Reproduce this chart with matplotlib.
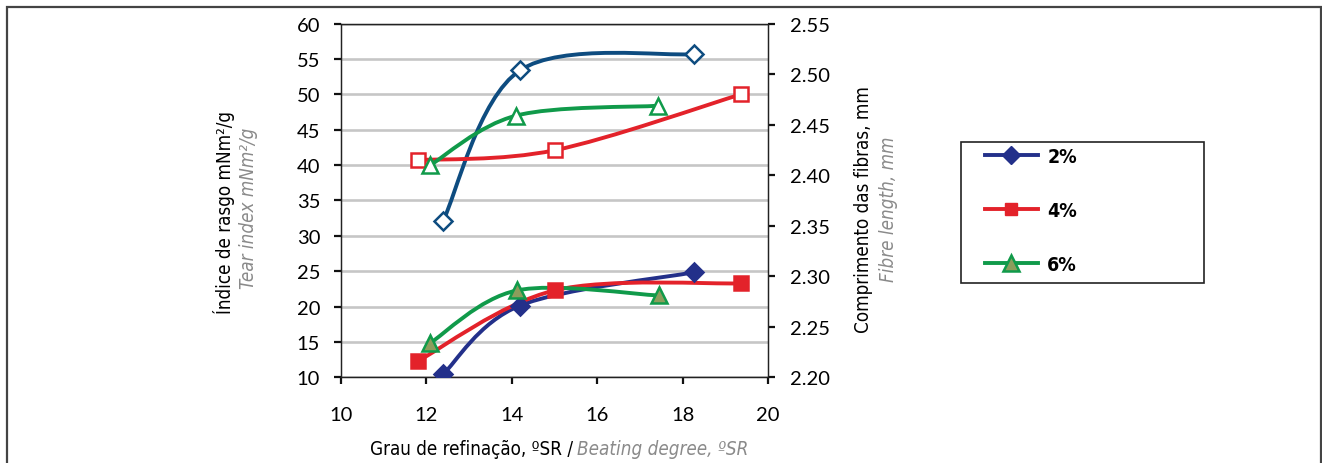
import numpy as np
import matplotlib
matplotlib.use("Agg")
import matplotlib.pyplot as plt
from matplotlib.path import Path
from matplotlib.patches import PathPatch, Rectangle
from matplotlib.lines import Line2D
from matplotlib import font_manager

# --- Daten ---
# Reißindex (linke Achse, hohle Marker)
grau_rasgo_2 = [12.39, 14.19, 18.26]
rasgo_2 = [32.1, 53.4, 55.7]
grau_rasgo_4 = [11.80, 15.00, 19.36]
rasgo_4 = [40.7, 42.1, 50.0]
grau_rasgo_6 = [12.09, 14.10, 17.43]
rasgo_6 = [40.0, 47.0, 48.4]

# Faserlänge (rechte Achse, gefüllte Marker)
grau_fibra_2 = [12.39, 14.19, 18.27]
fibra_2 = [2.203, 2.271, 2.304]
grau_fibra_4 = [11.80, 15.00, 19.36]
fibra_4 = [2.216, 2.286, 2.293]
grau_fibra_6 = [12.09, 14.12, 17.44]
fibra_6 = [2.234, 2.286, 2.281]

legend_labels = ["2%", "4%", "6%"]
x_ticks = [10, 12, 14, 16, 18, 20]
y_ticks = [10, 15, 20, 25, 30, 35, 40, 45, 50, 55, 60]
y2_ticks = [2.20, 2.25, 2.30, 2.35, 2.40, 2.45, 2.50, 2.55]

# --- Farben ---
azul_oco = "#0e4c80"
azul = "#23308a"
vermelho = "#e3222a"
verde = "#109a4a"
verde_cheio = "#8c9d5c"
cinza_txt = "#8a8a8a"

# --- Schriften ---
fontes = font_manager.fontManager.ttflist
nomes = {f.name for f in fontes}
fonte_num = "Lato" if "Lato" in nomes else "DejaVu Sans"
if "Liberation Sans Narrow" in nomes:
    fonte_cond, estica, tam_cond = "Liberation Sans Narrow", "normal", 14.5
elif any(f.name == "DejaVu Sans" and f.stretch == "condensed" for f in fontes):
    fonte_cond, estica, tam_cond = "DejaVu Sans", "condensed", 13.5
else:
    fonte_cond, estica, tam_cond = "Liberation Sans", "normal", 13.5


def curva_suave(x, y):
    # geglättete Linie wie in Excel (Bezier-Segmente)
    p = np.column_stack([x, y]).astype(float)
    n = len(p)
    verts = [p[0]]
    codes = [Path.MOVETO]
    for i in range(n - 1):
        p0 = p[i - 1] if i > 0 else p[i]
        p3 = p[i + 2] if i + 2 < n else p[i + 1]
        c1 = p[i] + (p[i + 1] - p0) / 6
        c2 = p[i + 1] - (p3 - p[i]) / 6
        verts += [c1, c2, p[i + 1]]
        codes += [Path.CURVE4] * 3
    return Path(verts, codes)


W, H = 1322, 464
fig = plt.figure(figsize=(W / 100, H / 100), dpi=100)
ax = fig.add_axes([341 / W, 1 - 378.3 / H, (768 - 341) / W, (378.3 - 24.7) / H])
ax2 = ax.twinx()

# --- linke Achse: Reißindex ---
for gx, gy, cor, mk, ms in [(grau_rasgo_2, rasgo_2, azul_oco, "D", 9.5),
                            (grau_rasgo_4, rasgo_4, vermelho, "s", 9.5),
                            (grau_rasgo_6, rasgo_6, verde, "^", 11.5)]:
    ax.add_patch(PathPatch(curva_suave(gx, gy), facecolor="none", edgecolor=cor,
                           lw=2.8, capstyle="round", zorder=3))
    ax.plot(gx, gy, linestyle="none", marker=mk, ms=ms, mfc="white", mec=cor, mew=1.8, zorder=4)

# --- rechte Achse: Faserlänge ---
for gx, gy, cor, mk, ms, mfc in [(grau_fibra_2, fibra_2, azul, "D", 9.5, azul),
                                 (grau_fibra_4, fibra_4, vermelho, "s", 9.5, vermelho),
                                 (grau_fibra_6, fibra_6, verde, "^", 11.5, verde_cheio)]:
    ax2.add_patch(PathPatch(curva_suave(gx, gy), facecolor="none", edgecolor=cor,
                            lw=2.8, capstyle="round", zorder=3))
    ax2.plot(gx, gy, linestyle="none", marker=mk, ms=ms, mfc=mfc, mec=cor, mew=1.8, zorder=4)

ax.set_xlim(10, 20)
ax.set_ylim(10, 60)
ax2.set_ylim(2.20, 2.55)
ax.set_xticks(x_ticks)
ax.set_yticks(y_ticks)
ax2.set_yticks(y2_ticks)
ax2.set_yticklabels([f"{v:.2f}" for v in y2_ticks])

ax.yaxis.grid(True, color="#c6c6c6", lw=1.9)
ax.set_axisbelow(True)

for a in (ax, ax2):
    for s in a.spines.values():
        s.set_color("#222222")
        s.set_linewidth(0.9)
    a.tick_params(direction="out", length=5, width=1.6, color="#111111",
                  labelsize=14.5, labelfontfamily=fonte_num)
ax.tick_params(axis="y", pad=10)
ax.tick_params(axis="x", pad=16)
ax2.tick_params(axis="y", pad=11)

# --- Achsenbeschriftungen ---
tf = fig.transFigure
kw = dict(family=fonte_cond, fontstretch=estica, fontsize=tam_cond, rotation=90,
          ha="center", va="center", transform=tf)
fig.text(224 / W, 1 - 212 / H, "Índice de rasgo mNm²/g", color="black", **kw)
fig.text(249 / W, 1 - 208 / H, "Tear index mNm²/g", color=cinza_txt, style="italic", **kw)
fig.text(863 / W, 1 - 210 / H, "Comprimento das fibras, mm", color="black", **kw)
fig.text(888 / W, 1 - 209 / H, "Fibre length, mm", color=cinza_txt, style="italic", **kw)

kx = dict(family=fonte_cond, fontstretch=estica, fontsize=tam_cond, va="center", transform=tf)
fig.text(573 / W, 1 - 450 / H, "Grau de refinação, ºSR /", color="black", ha="right", **kx)
fig.text(577 / W, 1 - 450 / H, "Beating degree, ºSR", color=cinza_txt, style="italic",
         ha="left", **kx)

# --- Legende ---
handles = [Line2D([], [], color=azul, lw=2.8, marker="D", ms=9, mfc=azul, mec=azul),
           Line2D([], [], color=vermelho, lw=2.8, marker="s", ms=9, mfc=vermelho, mec=vermelho),
           Line2D([], [], color=verde, lw=2.8, marker="^", ms=11, mfc=verde_cheio, mec=verde, mew=1.8)]
fig.legend(handles, legend_labels, loc="upper left", bbox_to_anchor=(985 / W, 1 - 148 / H),
           frameon=False, handlelength=2.7, handletextpad=0.5, labelspacing=1.8,
           borderpad=0, borderaxespad=0,
           prop=dict(family=fonte_cond, stretch=estica, weight="bold", size=tam_cond + 0.5))
fig.patches.append(Rectangle((960.7 / W, 1 - 284.3 / H), (1204 - 960.7) / W, (284.3 - 142.7) / H,
                             transform=tf, fill=False, edgecolor="#222222", lw=1.2))

# --- äußerer Rahmen ---
fig.patches.append(Rectangle((7.3 / W, -0.1), (1321 - 7.3) / W, 1.1 - 8 / H,
                             transform=tf, fill=False, edgecolor="#444444", lw=1.6))

fig.savefig("out.png", dpi=100)
